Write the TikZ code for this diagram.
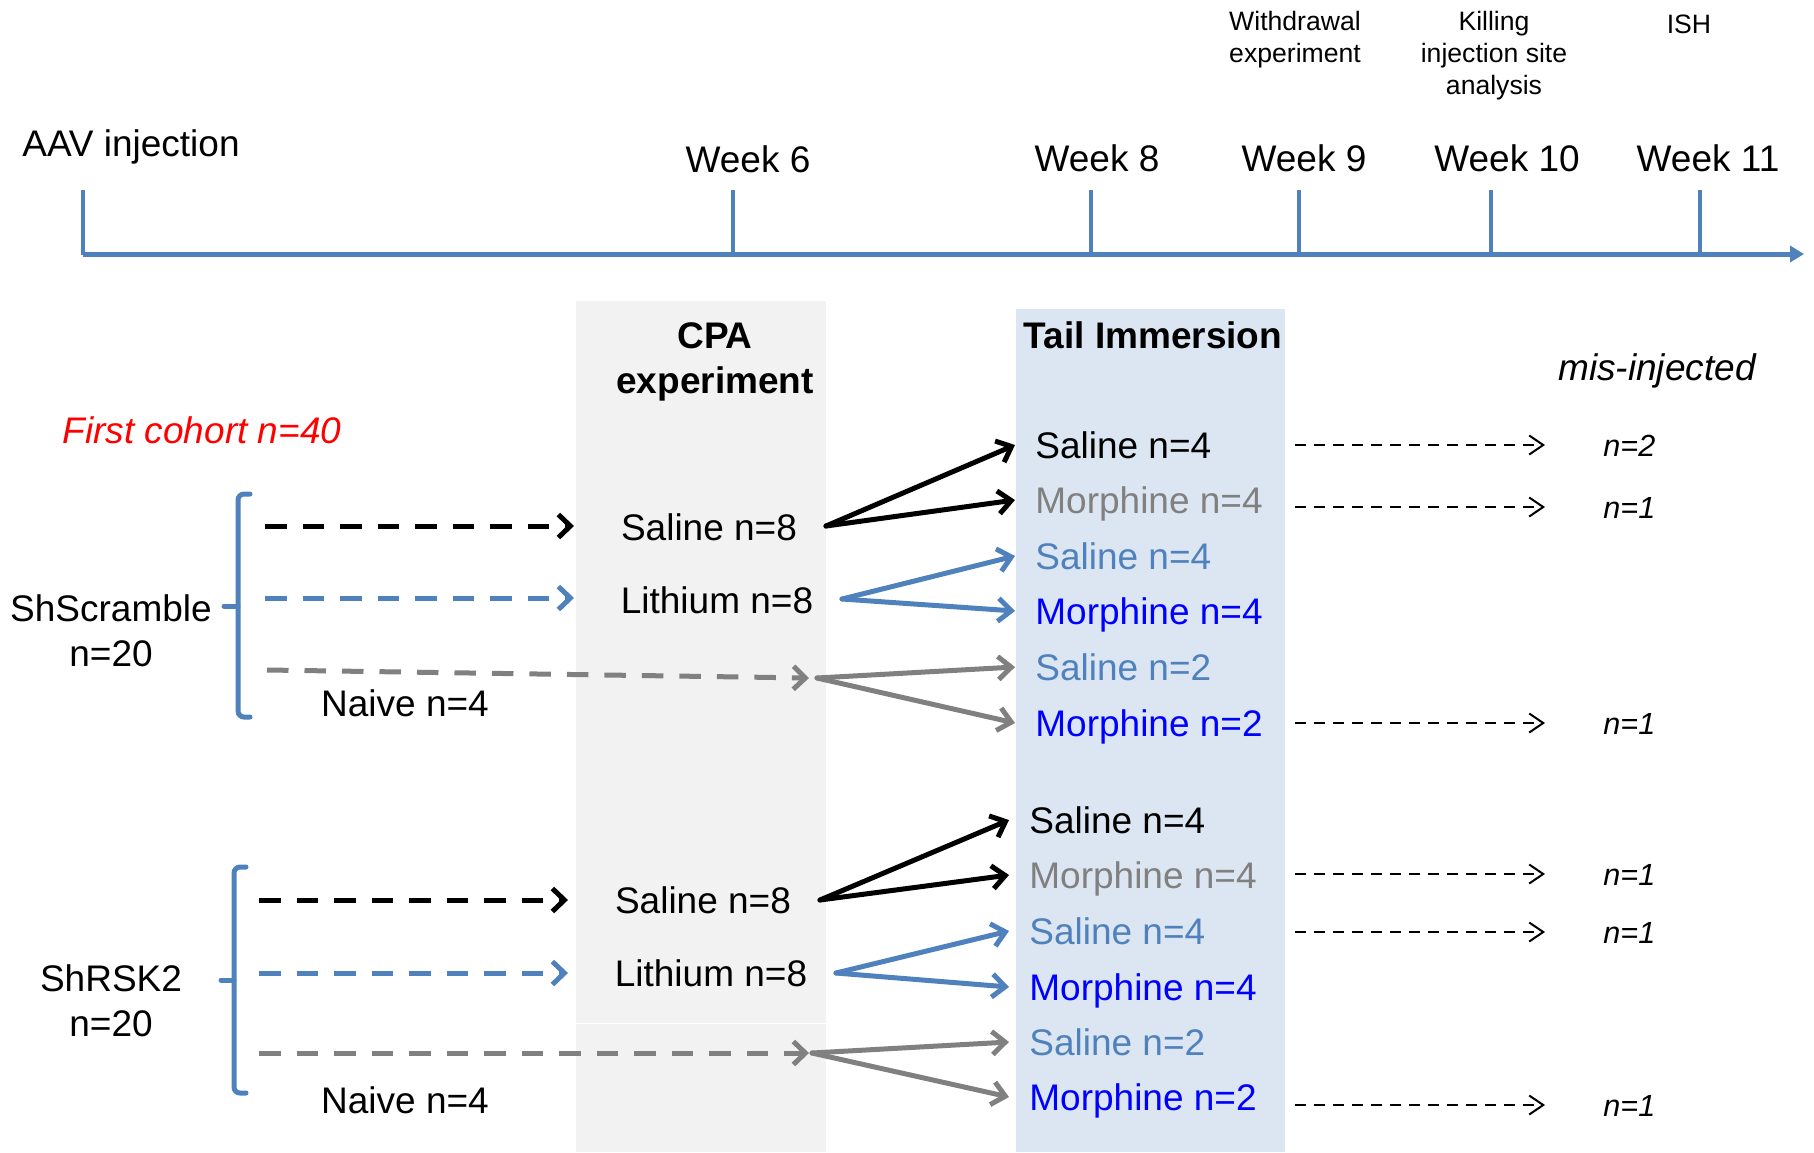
\documentclass[tikz,border=0pt]{standalone}
\usepackage{fontspec}
\setmainfont{Liberation Sans}
\usetikzlibrary{arrows.meta}
\definecolor{steel}{HTML}{4F81BD}
\definecolor{cpagray}{HTML}{F2F2F2}
\definecolor{tailblue}{HTML}{DCE6F2}
\definecolor{midgray}{HTML}{808080}
\definecolor{pureblue}{HTML}{0000FF}
\definecolor{pured}{HTML}{FF0000}
\begin{document}
\begin{tikzpicture}[x=0.5pt,y=-0.5pt,
  lbl/.style={inner sep=0pt, text height=13.25pt, text depth=0pt, font=\fontsize{18.5}{22.5}\selectfont},
  head/.style={inner sep=0pt, align=center, anchor=north, font=\fontsize{18.5}{22.5}\selectfont\bfseries},
  headone/.style={lbl, font=\fontsize{18.5}{22.5}\selectfont\bfseries},
  grp/.style={inner sep=0pt, align=center, anchor=north, font=\fontsize{18.5}{22.5}\selectfont},
  note/.style={inner sep=0pt, align=center, anchor=north, font=\fontsize{13.3}{16}\selectfont},
  noteone/.style={inner sep=0pt, text height=9.5pt, text depth=0pt, font=\fontsize{13.3}{16}\selectfont},
  tailtxt/.style={lbl, anchor=west, inner xsep=10pt},
  mislbl/.style={inner sep=0pt, inner xsep=29pt, anchor=west, text height=11pt, text depth=0pt, font=\fontsize{15.3}{18}\selectfont\itshape},
  dasharrow/.style={line width=2.5pt, dash pattern=on 10.75pt off 8pt, -{Straight Barb[length=6pt,width=11.5pt]}},
  solidarrow/.style={line width=2.5pt, line cap=round, -{Straight Barb[length=6.5pt,width=11.5pt]}},
  misarrow/.style={line width=1pt, dash pattern=on 5.5pt off 4pt, -{Straight Barb[length=7pt,width=9.5pt]}},
  brace/.style={draw=steel, line width=2.5pt, rounded corners=3pt, line cap=round},
  axis/.style={draw=steel, line width=2.5pt, -{Triangle[length=7pt,width=8pt]}},
  tickmark/.style={draw=steel, line width=2pt},
]
\path[use as bounding box] (0,0) rectangle (1814,1152);

% panels
\fill[cpagray] (576,301) rectangle (826,1022.5);
\fill[cpagray] (576,1024) rectangle (826,1152);
\fill[tailblue] (1016,309) rectangle (1285,1152);

% timeline
\coordinate (tl0) at (83,254);
\coordinate (tl1) at (1804,254);
\draw[axis] (tl0) -- (tl1);
\foreach \x in {83,733,1091,1299,1491,1700}{
  \draw[tickmark] (\x,190) -- (\x,255);
}
\node[lbl] (aav) at (131,143) {AAV injection};
\node[lbl] (wk6) at (748,159) {Week 6};
\node[lbl] (wk8) at (1097,158) {Week 8};
\node[lbl] (wk9) at (1304,158) {Week 9};
\node[lbl] (wk10) at (1507,158) {Week 10};
\node[lbl] (wk11) at (1708,158) {Week 11};
\node[note] (wd) at (1295,11) {Withdrawal\\experiment};
\node[note] (kill) at (1494,11) {Killing\\injection site\\analysis};
\node[noteone] (ish) at (1689,24) {ISH};

% headings
\node[head] (cpa) at (715,322) {CPA\\experiment};
\node[headone] (ti) at (1153,335) {Tail Immersion};
\node[lbl, font=\fontsize{18.5}{22.5}\selectfont\itshape] (mis) at (1657,367) {mis-injected};
\node[lbl, text=pured, font=\fontsize{18.5}{22.5}\selectfont\itshape] (coh) at (202,430) {First cohort n=40};

% group 1
\node[grp] (shs) at (111,594) {ShScramble\\n=20};
\draw[brace] (250,494) -- (238,494) -- (238,717) -- (250,717);
\draw[brace] (238,606) -- (224,606);
\node[lbl] (s8a) at (709,527) {Saline n=8};
\node[lbl] (l8a) at (717,600) {Lithium n=8};
\node[lbl] (nva) at (405,703) {Naive n=4};

\coordinate (bk1s) at (265,526); \coordinate (bk1e) at (574,526);
\coordinate (bl1s) at (265,598); \coordinate (bl1e) at (574,598);
\coordinate (gr1s) at (267,670); \coordinate (gr1e) at (809,678);
\draw[dasharrow, black] (bk1s) -- (bk1e);
\draw[dasharrow, steel] (bl1s) -- (bl1e);
\draw[dasharrow, midgray] (gr1s) -- (gr1e);

\node[tailtxt] (t1) at (1015,445) {Saline n=4};
\node[tailtxt, text=midgray] (t2) at (1015,500) {Morphine n=4};
\node[tailtxt, text=steel] (t3) at (1015,556) {Saline n=4};
\node[tailtxt, text=pureblue] (t4) at (1015,611) {Morphine n=4};
\node[tailtxt, text=steel] (t5) at (1015,667) {Saline n=2};
\node[tailtxt, text=pureblue] (t6) at (1015,723) {Morphine n=2};

\coordinate (j1) at (826,526);
\coordinate (j2) at (842,599);
\coordinate (j3) at (817,678);
\draw[solidarrow, black] (j1) -- (t1.west);
\draw[solidarrow, black] (j1) -- (t2.west);
\draw[solidarrow, steel] (j2) -- (t3.west);
\draw[solidarrow, steel] (j2) -- (t4.west);
\draw[solidarrow, midgray] (j3) -- (t5.west);
\draw[solidarrow, midgray] (j3) -- (t6.west);

% group 2
\node[grp] (shr) at (111,964) {ShRSK2\\n=20};
\draw[brace] (246,867) -- (234,867) -- (234,1093) -- (246,1093);
\draw[brace] (234,980) -- (221,980);
\node[lbl] (s8b) at (703,900) {Saline n=8};
\node[lbl] (l8b) at (711,973) {Lithium n=8};
\node[lbl] (nvb) at (405,1100) {Naive n=4};

\coordinate (bk2s) at (259,900); \coordinate (bk2e) at (568,900);
\coordinate (bl2s) at (259,973); \coordinate (bl2e) at (568,973);
\coordinate (gr2s) at (259,1053); \coordinate (gr2e) at (809,1053);
\draw[dasharrow, black] (bk2s) -- (bk2e);
\draw[dasharrow, steel] (bl2s) -- (bl2e);
\draw[dasharrow, midgray] (gr2s) -- (gr2e);

\node[tailtxt] (u1) at (1009,820) {Saline n=4};
\node[tailtxt, text=midgray] (u2) at (1009,875) {Morphine n=4};
\node[tailtxt, text=steel] (u3) at (1009,931) {Saline n=4};
\node[tailtxt, text=pureblue] (u4) at (1009,987) {Morphine n=4};
\node[tailtxt, text=steel] (u5) at (1009,1042) {Saline n=2};
\node[tailtxt, text=pureblue] (u6) at (1009,1097) {Morphine n=2};

\coordinate (j4) at (820,900);
\coordinate (j5) at (836,973);
\coordinate (j6) at (812,1053);
\draw[solidarrow, black] (j4) -- (u1.west);
\draw[solidarrow, black] (j4) -- (u2.west);
\draw[solidarrow, steel] (j5) -- (u3.west);
\draw[solidarrow, steel] (j5) -- (u4.west);
\draw[solidarrow, midgray] (j6) -- (u5.west);
\draw[solidarrow, midgray] (j6) -- (u6.west);

% mis-injected
\coordinate (ms) at (1295,0);
\node[mislbl] (m1) at (1545,445) {n=2};
\node[mislbl] (m2) at (1545,507) {n=1};
\node[mislbl] (m3) at (1545,723) {n=1};
\node[mislbl] (m4) at (1545,874) {n=1};
\node[mislbl] (m5) at (1545,932) {n=1};
\node[mislbl] (m6) at (1545,1105) {n=1};
\foreach \m in {m1,m2,m3,m4,m5,m6}{
  \draw[misarrow] (\m.west -| ms) -- (\m.west);
}
\end{tikzpicture}
\end{document}
